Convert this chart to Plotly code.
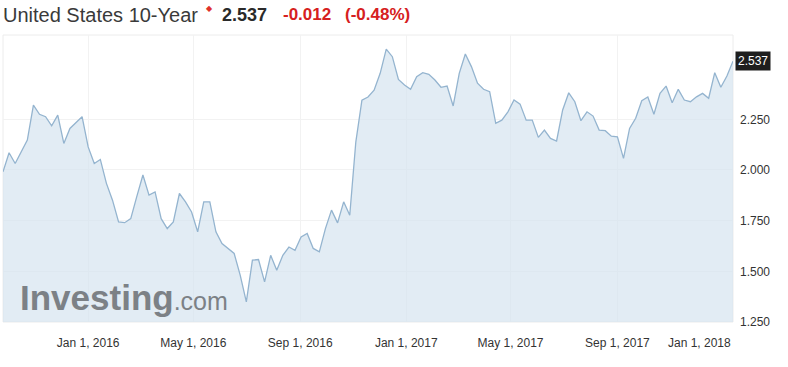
import pandas as pd
import plotly.graph_objects as go

# ---------------- data ----------------
start_date = "2015-09-25"
yield_values = [
    1.991, 2.085, 2.032, 2.090, 2.148, 2.320, 2.275, 2.263, 2.218, 2.271,
    2.131, 2.205, 2.235, 2.263, 2.114, 2.032, 2.052, 1.934, 1.851, 1.744,
    1.740, 1.760, 1.870, 1.975, 1.876, 1.892, 1.760, 1.711, 1.744, 1.884,
    1.843, 1.793, 1.695, 1.843, 1.843, 1.695, 1.637, 1.612, 1.588, 1.480,
    1.349, 1.555, 1.558, 1.448, 1.579, 1.505, 1.579, 1.620, 1.604, 1.670,
    1.687, 1.613, 1.596, 1.711, 1.802, 1.739, 1.843, 1.777, 2.139, 2.345,
    2.360, 2.394, 2.477, 2.596, 2.559, 2.447, 2.419, 2.398, 2.460, 2.480,
    2.472, 2.444, 2.408, 2.414, 2.316, 2.477, 2.572, 2.510, 2.428, 2.398,
    2.386, 2.230, 2.246, 2.287, 2.345, 2.325, 2.246, 2.246, 2.161, 2.197,
    2.156, 2.143, 2.296, 2.381, 2.337, 2.243, 2.287, 2.266, 2.197, 2.194,
    2.167, 2.164, 2.057, 2.205, 2.255, 2.342, 2.360, 2.275, 2.378, 2.414,
    2.332, 2.398, 2.345, 2.337, 2.361, 2.378, 2.354, 2.480, 2.408, 2.464,
    2.537,
]
dates = pd.date_range(start_date, periods=len(yield_values), freq="7D")

last_value = 2.537
change_text = "-0.012"
change_pct_text = "(-0.48%)"
title_text = "United States 10-Year"

x_tick_dates = ["2016-01-01", "2016-05-01", "2016-09-01", "2017-01-01",
                "2017-05-01", "2017-09-01"]
x_tick_labels = ["Jan 1, 2016", "May 1, 2016", "Sep 1, 2016", "Jan 1, 2017",
                 "May 1, 2017", "Sep 1, 2017"]
last_x_label = "Jan 1, 2018"
y_tick_vals = [1.25, 1.5, 1.75, 2.0, 2.25]
y_range = [1.25, 2.666]

# ---------------- layout geometry ----------------
W, H = 788, 367
L, R, T, B = 3, 55, 35, 45
PW, PH = W - L - R, H - T - B


def px(x):
    return (x - L) / PW


def py(y):
    return (H - B - y) / PH


FONT = "Liberation Sans, Arial, sans-serif"

fig = go.Figure()
fig.add_trace(go.Scatter(
    x=dates, y=yield_values, mode="lines",
    line=dict(color="#94b4cf", width=1.3),
    fill="tozeroy", fillcolor="rgba(214,228,239,0.7)",
    hoverinfo="skip", showlegend=False,
))

# current-value line
fig.add_hline(y=last_value, line=dict(color="#2a2a2a", width=1.2))

annotations = [
    # value tag on right axis
    dict(x=1, y=last_value, xref="paper", yref="y", xanchor="left",
         yanchor="middle", xshift=2, text=f"{last_value:.3f}",
         showarrow=False, bgcolor="#1e1e1e", borderpad=2,
         font=dict(family=FONT, size=12, color="#ffffff")),
    # clamped last x label
    dict(x=1, y=0, xref="paper", yref="paper", xanchor="right",
         yanchor="top", yshift=-12, text=last_x_label, showarrow=False,
         font=dict(family=FONT, size=12, color="#333333")),
    # header
    dict(x=px(1), y=py(15), xref="paper", yref="paper", xanchor="left",
         yanchor="middle", text=title_text, showarrow=False,
         font=dict(family=FONT, size=20, color="#3a3a3a")),
    dict(x=px(204), y=py(8), xref="paper", yref="paper", xanchor="left",
         yanchor="middle", text="◆", showarrow=False,
         font=dict(family=FONT, size=8, color="#e0312b")),
    dict(x=px(220), y=py(15), xref="paper", yref="paper", xanchor="left",
         yanchor="middle", text=f"<b>{last_value:.3f}</b>", showarrow=False,
         font=dict(family=FONT, size=18, color="#2a2a2a")),
    dict(x=px(281), y=py(15), xref="paper", yref="paper", xanchor="left",
         yanchor="middle", text=f"<b>{change_text}</b>", showarrow=False,
         font=dict(family=FONT, size=17, color="#d62020")),
    dict(x=px(343), y=py(15), xref="paper", yref="paper", xanchor="left",
         yanchor="middle", text=f"<b>{change_pct_text}</b>", showarrow=False,
         font=dict(family=FONT, size=17, color="#d62020")),
    # watermark
    dict(x=px(18), y=py(309), xref="paper", yref="paper", xanchor="left",
         yanchor="bottom", yshift=-10, showarrow=False,
         text="<b>Investing</b><span style='font-size:25px;font-weight:normal'>.com</span>",
         font=dict(family=FONT, size=35, color="#7c8186")),
]

fig.update_layout(
    width=W, height=H,
    margin=dict(l=L, r=R, t=T, b=B, pad=0),
    paper_bgcolor="#ffffff", plot_bgcolor="#ffffff",
    annotations=annotations,
    shapes=[dict(type="rect", xref="paper", yref="paper", x0=0, x1=1,
                 y0=0, y1=1, line=dict(color="#ececec", width=1),
                 layer="below")],
    xaxis=dict(
        range=[dates[0], dates[-1]], tickvals=x_tick_dates,
        ticktext=x_tick_labels, showgrid=True, gridcolor="#f2f2f2",
        zeroline=False, showline=False, ticks="", ticklabelstandoff=12,
        tickfont=dict(family=FONT, size=12, color="#333333"),
    ),
    yaxis=dict(
        range=y_range, side="right", tickvals=y_tick_vals,
        tickformat=".3f", showgrid=True, gridcolor="#f2f2f2",
        zeroline=False, showline=False, ticks="", ticklabelstandoff=6,
        tickfont=dict(family=FONT, size=12, color="#333333"),
    ),
)

fig.write_html("out.html")
